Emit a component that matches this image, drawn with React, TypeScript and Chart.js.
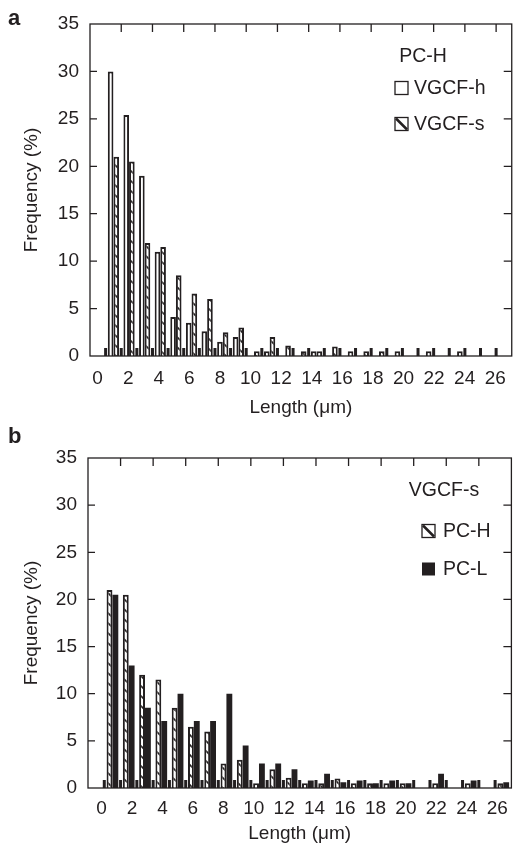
import React, { useEffect, useRef } from 'react';
import { Chart, registerables } from 'chart.js';

Chart.register(...registerables);

// ---------- data ----------
const lengthBins = [1, 2, 3, 4, 5, 6, 7, 8, 9, 10, 11, 12, 13, 14, 15, 16, 17, 18, 19, 20, 21, 22, 23, 24, 25];
const xTickLabels = [0, 2, 4, 6, 8, 10, 12, 14, 16, 18, 20, 22, 24, 26];
const yTickValues = [0, 5, 10, 15, 20, 25, 30, 35];

// panel a : PC-H
const aVGCFh = [30, 25.4, 19, 11, 4.1, 3.5, 2.6, 1.5, 2.0, 0, 0.5, 0, 0, 0.5, 0, 0, 0, 0, 0, 0, 0, 0, 0, 0, 0];
const aVGCFs = [21, 20.5, 11.9, 11.5, 8.5, 6.6, 6.0, 2.5, 3.0, 0.5, 2.0, 1.1, 0.5, 0.5, 1.0, 0.5, 0.5, 0.5, 0.5, 0, 0.5, 0, 0.5, 0, 0];
// panel b : VGCF-s
const bPCH = [21, 20.5, 12, 11.5, 8.5, 6.5, 6.0, 2.6, 3.0, 0.5, 2.0, 1.1, 0.5, 0.5, 1.0, 0.5, 0.5, 0.5, 0.5, 0, 0.5, 0, 0.5, 0, 0.5];
const bPCL = [20.5, 13, 8.5, 7.1, 10, 7.1, 7.1, 10, 4.5, 2.6, 2.6, 2.0, 0.8, 1.5, 0.6, 0.8, 0.5, 0.8, 0.5, 0, 1.5, 0, 0.8, 0, 0.6];

const INK = '#231f20';
const FONT = '"Liberation Sans", Arial, Helvetica, sans-serif';

function makeHatch(): CanvasPattern | string {
  const t = document.createElement('canvas');
  t.width = 10;
  t.height = 10;
  const c = t.getContext('2d');
  if (!c) return '#fff';
  c.fillStyle = '#fff';
  c.fillRect(0, 0, 10, 10);
  c.strokeStyle = INK;
  c.lineWidth = 1.6;
  c.beginPath();
  c.moveTo(-2, -2); c.lineTo(12, 12);
  c.moveTo(-2, 8); c.lineTo(2, 12);
  c.moveTo(8, -2); c.lineTo(12, 2);
  c.stroke();
  return c.createPattern(t, 'repeat') || '#fff';
}

const toPoints = (vals: number[]) =>
  lengthBins.map((b, i) => ({ x: b + 0.5, y: vals[i] > 0 ? vals[i] : null }));

const frameTicks = {
  id: 'frameTicks',
  afterDatasetsDraw(chart: any) {
    const { ctx, chartArea: a, scales } = chart;
    const x = scales.x;
    const y = scales.y;
    ctx.save();
    ctx.strokeStyle = INK;
    ctx.fillStyle = INK;
    ctx.lineWidth = 1.3;
    ctx.strokeRect(a.left, a.top, a.right - a.left, a.bottom - a.top);
    ctx.beginPath();
    for (const v of yTickValues) {
      if (v <= 0 || v >= 35) continue;
      const py = y.getPixelForValue(v);
      ctx.moveTo(a.left, py); ctx.lineTo(a.left + 7, py);
      ctx.moveTo(a.right, py); ctx.lineTo(a.right - 8, py);
    }
    for (let v = 2; v < x.max - 0.3; v += 2) {
      const px = x.getPixelForValue(v);
      ctx.moveTo(px, a.top); ctx.lineTo(px, a.top + 8);
    }
    ctx.stroke();
    for (let v = 1; v < x.max - 0.3; v += 1) {
      const px = x.getPixelForValue(v);
      ctx.fillRect(px - 1.5, a.bottom - 8, 3, 8);
    }
    ctx.restore();
  },
};

const inLegend = {
  id: 'inLegend',
  afterDraw(chart: any, _args: any, opts: any) {
    const { ctx } = chart;
    ctx.save();
    ctx.fillStyle = INK;
    ctx.strokeStyle = INK;
    ctx.font = `bold 22px ${FONT}`;
    ctx.textAlign = 'left';
    ctx.textBaseline = 'middle';
    ctx.fillText(opts.panel, opts.panelX, opts.panelY);
    ctx.font = `19.5px ${FONT}`;
    ctx.textAlign = 'center';
    ctx.fillText(opts.title, opts.titleX, opts.titleY);
    ctx.textAlign = 'left';
    chart.data.datasets.forEach((ds: any, i: number) => {
      const cy = opts.itemY[i];
      const s = 13;
      const bx = opts.boxX;
      const by = cy - s / 2;
      ctx.lineWidth = 1.3;
      if (ds.legendKind === 'solid') {
        ctx.fillRect(bx, by, s, s);
      } else {
        ctx.strokeRect(bx, by, s, s);
        if (ds.legendKind === 'hatch') {
          ctx.lineWidth = 2.5;
          ctx.beginPath();
          ctx.moveTo(bx + 1, by + 1);
          ctx.lineTo(bx + s - 1, by + s - 1);
          ctx.stroke();
        }
      }
      ctx.fillText(ds.label, opts.textX, cy + 1);
    });
    ctx.restore();
  },
};

interface PanelCfg {
  padTop: number;
  padRight: number;
  yAxisWidth: number;
  xAxisHeight: number;
  dataMax: number;
  labelMin: number;
  labelMax: number;
  xLabelPad: number;
  legend: any;
  datasets: any[];
}

function buildConfig(p: PanelCfg): any {
  const tickFont = { family: FONT, size: 19 };
  return {
    type: 'bar',
    data: { datasets: p.datasets },
    options: {
      responsive: false,
      animation: false,
      events: [],
      layout: { padding: { top: p.padTop, right: p.padRight, left: 0, bottom: 0 } },
      plugins: {
        legend: { display: false },
        tooltip: { enabled: false },
        inLegend: p.legend,
      },
      scales: {
        x: {
          type: 'linear',
          min: 0,
          max: p.dataMax,
          offset: false,
          display: false,
        },
        xl: {
          type: 'linear',
          position: 'bottom',
          offset: false,
          min: p.labelMin,
          max: p.labelMax,
          afterBuildTicks: (s: any) => {
            s.ticks = xTickLabels.map((v) => ({ value: v }));
          },
          afterFit: (s: any) => {
            s.height = p.xAxisHeight;
          },
          grid: { display: false, drawTicks: false, offset: false },
          border: { display: false },
          ticks: { padding: p.xLabelPad, font: tickFont, color: INK, maxRotation: 0, autoSkip: false },
          title: {
            display: true,
            text: 'Length (μm)',
            font: tickFont,
            color: INK,
            padding: { top: 0, bottom: 6 },
          },
        },
        y: {
          type: 'linear',
          min: 0,
          max: 35,
          afterBuildTicks: (s: any) => {
            s.ticks = yTickValues.map((v) => ({ value: v }));
          },
          afterFit: (s: any) => {
            s.width = p.yAxisWidth;
          },
          grid: { display: false, drawTicks: false },
          border: { display: false },
          ticks: { padding: 11, font: tickFont, color: INK },
          title: {
            display: true,
            text: 'Frequency (%)',
            font: tickFont,
            color: INK,
            padding: { top: 20, bottom: 0 },
          },
        },
      },
    },
    plugins: [frameTicks, inLegend],
  };
}

function barStyle(kind: string, hatch: any) {
  const base = {
    xAxisID: 'x',
    yAxisID: 'y',
    barPercentage: 1,
    categoryPercentage: 0.72,
    borderColor: INK,
    borderSkipped: 'start',
    legendKind: kind,
  };
  if (kind === 'hollow') return { ...base, backgroundColor: '#ffffff', borderWidth: 2 };
  if (kind === 'hatch') return { ...base, backgroundColor: hatch, borderWidth: 2 };
  return { ...base, backgroundColor: INK, borderWidth: 0 };
}

function Panel({ which }: { which: 'a' | 'b' }) {
  const ref = useRef<HTMLCanvasElement | null>(null);
  useEffect(() => {
    if (!ref.current) return;
    const hatch = makeHatch();
    let cfg: any;
    if (which === 'a') {
      cfg = buildConfig({
        padTop: 24,
        padRight: 2,
        yAxisWidth: 90,
        xAxisHeight: 69,
        dataMax: 27.0,
        labelMin: -0.5,
        labelMax: 27.08,
        xLabelPad: 11,
        legend: {
          panel: 'a', panelX: 8, panelY: 19,
          title: 'PC-H', titleX: 423, titleY: 57,
          boxX: 395, textX: 414, itemY: [88, 124],
        },
        datasets: [
          { label: 'VGCF-h', data: toPoints(aVGCFh), ...barStyle('hollow', hatch) },
          { label: 'VGCF-s', data: toPoints(aVGCFs), ...barStyle('hatch', hatch) },
        ],
      });
    } else {
      cfg = buildConfig({
        padTop: 33,
        padRight: 1,
        yAxisWidth: 88,
        xAxisHeight: 63,
        dataMax: 26.0,
        labelMin: -0.89,
        labelMax: 26.93,
        xLabelPad: 9,
        legend: {
          panel: 'b', panelX: 8, panelY: 12,
          title: 'VGCF-s', titleX: 444, titleY: 66,
          boxX: 422, textX: 443, itemY: [106, 144],
        },
        datasets: [
          { label: 'PC-H', data: toPoints(bPCH), ...barStyle('hatch', hatch) },
          { label: 'PC-L', data: toPoints(bPCL), ...barStyle('solid', hatch) },
        ],
      });
    }
    const chart = new Chart(ref.current, cfg);
    return () => chart.destroy();
  }, [which]);
  return (
    <canvas
      ref={ref}
      width={517}
      height={which === 'a' ? 425 : 426}
      style={{ display: 'block', width: 517, height: which === 'a' ? 425 : 426 }}
    />
  );
}

export default function App() {
  return (
    <div style={{ position: 'absolute', left: 0, top: 0, width: 517, height: 851, background: '#ffffff' }}>
      <Panel which="a" />
      <Panel which="b" />
    </div>
  );
}
